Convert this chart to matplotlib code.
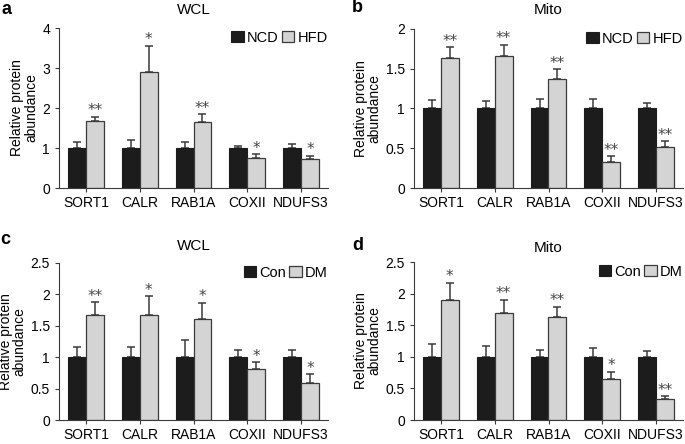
import matplotlib
matplotlib.use("Agg")
import matplotlib.pyplot as plt
import numpy as np

plt.rcParams["font.family"] = ["Liberation Sans", "DejaVu Sans"]

genes = ["SORT1", "CALR", "RAB1A", "COXII", "NDUFS3"]

# panel a: WCL, NCD vs HFD
a_ctrl = [1, 1, 1, 1, 1]
a_ctrl_err = [0.14, 0.19, 0.16, 0.04, 0.10]
a_trt = [1.665, 2.90, 1.64, 0.76, 0.736]
a_trt_err = [0.11, 0.66, 0.20, 0.085, 0.067]
a_stars = ["**", "*", "**", "*", "*"]

# panel b: Mito, NCD vs HFD
b_ctrl = [1, 1, 1, 1, 1]
b_ctrl_err = [0.105, 0.09, 0.12, 0.115, 0.065]
b_trt = [1.63, 1.655, 1.377, 0.324, 0.518]
b_trt_err = [0.14, 0.145, 0.118, 0.076, 0.067]
b_stars = ["**", "**", "**", "**", "**"]

# panel c: WCL, Con vs DM
c_ctrl = [1, 1, 1, 1, 1]
c_ctrl_err = [0.163, 0.168, 0.268, 0.11, 0.11]
c_trt = [1.672, 1.67, 1.614, 0.806, 0.59]
c_trt_err = [0.205, 0.30, 0.252, 0.114, 0.137]
c_stars = ["**", "*", "*", "*", "*"]

# panel d: Mito, Con vs DM
d_ctrl = [1, 1, 1, 1, 1]
d_ctrl_err = [0.204, 0.168, 0.10, 0.147, 0.09]
d_trt = [1.90, 1.69, 1.623, 0.654, 0.33]
d_trt_err = [0.267, 0.216, 0.167, 0.11, 0.042]
d_stars = ["*", "**", "**", "*", "**"]

W, H = 685, 444
dark = "#1c1c1c"
light = "#d4d4d4"
edge = "#3a3a3a"
fig = plt.figure(figsize=(W / 100, H / 100), dpi=100)


def panel(rect, letter, letter_xy, title, title_pad, ctrl, ctrl_err, trt, trt_err, stars,
          labels, ymax, ystep):
    l, t, r, b = rect
    ax = fig.add_axes([l / W, 1 - b / H, (r - l) / W, (b - t) / H])
    x = np.arange(len(genes))
    w = 1 / 3
    ax.bar(x - w / 2, ctrl, w, color=dark, edgecolor=dark, linewidth=0.8, label=labels[0], zorder=2)
    ax.bar(x + w / 2, trt, w, color=light, edgecolor=edge, linewidth=0.9, label=labels[1], zorder=2)
    zeros = np.zeros(len(genes))
    ax.errorbar(x - w / 2, ctrl, yerr=[zeros, ctrl_err], fmt="none", ecolor=edge,
                elinewidth=1.1, capsize=3, capthick=1.1, zorder=1)
    ax.errorbar(x + w / 2, trt, yerr=[zeros, trt_err], fmt="none", ecolor=edge,
                elinewidth=1.1, capsize=3, capthick=1.1, zorder=1)
    for xi, m, e, s in zip(x, trt, trt_err, stars):
        ax.annotate(s, (xi + w / 2, m + e), xytext=(0, -1), textcoords="offset points",
                    ha="center", va="bottom", fontsize=11, color="#444444",
                    family="DejaVu Sans")
    ax.set_xlim(-0.5, 4.5)
    ax.set_ylim(0, ymax)
    yt = np.arange(0, ymax + 1e-9, ystep)
    ax.set_yticks(yt)
    ax.set_yticklabels([("%g" % v) for v in yt], fontsize=10)
    ax.set_xticks(x)
    ax.set_xticklabels(genes, fontsize=10)
    ax.tick_params(axis="both", length=3, width=0.8, color=edge)
    ax.tick_params(axis="y", pad=3.5)
    ax.tick_params(axis="x", pad=2.5)
    for sp in ["top", "right"]:
        ax.spines[sp].set_visible(False)
    for sp in ["left", "bottom"]:
        ax.spines[sp].set_color(edge)
        ax.spines[sp].set_linewidth(0.8)
    ax.set_ylabel("Relative protein\nabundance", fontsize=10, labelpad=3, linespacing=0.95)
    ax.set_title(title, fontsize=11, pad=title_pad)
    ax.legend(loc="upper right", bbox_to_anchor=(1.02, 1.02), ncol=2, frameon=False,
              fontsize=10.5, handlelength=0.85, handleheight=0.85, handletextpad=0.2,
              columnspacing=0.25, borderaxespad=0)
    fig.text(letter_xy[0] / W, 1 - letter_xy[1] / H, letter, fontsize=13, fontweight="bold",
             va="center", ha="left")
    return ax


panel((59, 28, 328, 188), "a", (1, 9), "WCL", 10, a_ctrl, a_ctrl_err, a_trt, a_trt_err,
      a_stars, ["NCD", "HFD"], 4, 1)
panel((414, 29, 683, 188), "b", (352, 8), "Mito", 11, b_ctrl, b_ctrl_err, b_trt, b_trt_err,
      b_stars, ["NCD", "HFD"], 2, 0.5)
panel((59, 263, 328, 420), "c", (0, 239), "WCL", 9.5, c_ctrl, c_ctrl_err, c_trt, c_trt_err,
      c_stars, ["Con", "DM"], 2.5, 0.5)
panel((414, 262, 683, 420), "d", (352, 245), "Mito", 7.5, d_ctrl, d_ctrl_err, d_trt, d_trt_err,
      d_stars, ["Con", "DM"], 2.5, 0.5)

fig.savefig("out.png", dpi=100)
